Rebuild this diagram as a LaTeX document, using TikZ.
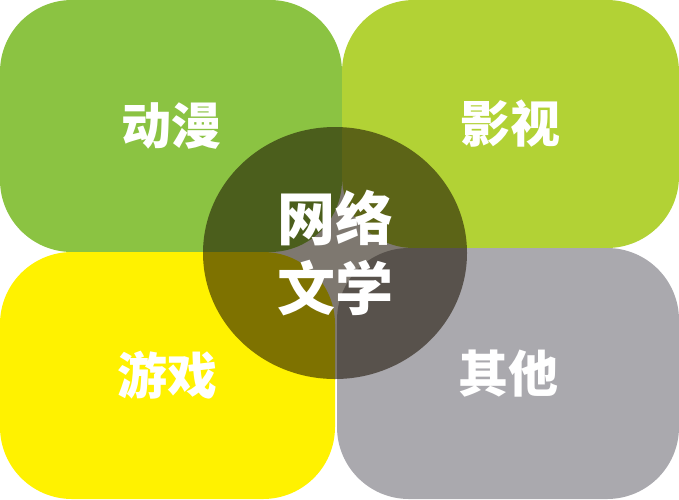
\documentclass[tikz,border=0pt]{standalone}
\usepackage{fontspec}
\newfontfamily\cjk{Noto Sans CJK SC}
\usepackage{xcolor}
\definecolor{nl-green}{RGB}{139,195,66}
\definecolor{nl-lime}{RGB}{178,210,53}
\definecolor{nl-yellow}{RGB}{255,242,0}
\definecolor{nl-grey}{RGB}{170,169,174}
\definecolor{nl-dark}{RGB}{25,15,0}
\usepackage{tikz}
\usetikzlibrary{shapes.geometric,positioning}

\begin{document}
\begin{tikzpicture}[x=1pt,y=-1pt,
    box/.style={rectangle,rounded corners=72pt,inner sep=0pt,outer sep=0pt,text=white,font=\cjk\bfseries\fontsize{50}{54}\selectfont},
    hub/.style={ellipse,fill=nl-dark,fill opacity=0.56,text opacity=1,text=white,inner sep=0pt,outer sep=0pt,minimum width=264pt,minimum height=252pt,align=center,font=\cjk\bfseries\fontsize{58}{70}\selectfont}]
    \useasboundingbox (0,0) rectangle (679,499);
    \node[box,fill=nl-green,minimum width=342pt,minimum height=252pt] (q1) at (171,126) {动漫};
    \node[box,fill=nl-lime,minimum width=337pt,minimum height=248pt] (q2) at (510.5,124) {影视};
    \node[box,fill=nl-yellow,minimum width=335pt,minimum height=247pt] (q3) at (167.5,375.5) {游戏};
    \node[box,fill=nl-grey,minimum width=342pt,minimum height=251pt] (q4) at (508,373.5) {其他};
    \node[hub] (web) at (335,253) {网络\\文学};
\end{tikzpicture}
\end{document}
